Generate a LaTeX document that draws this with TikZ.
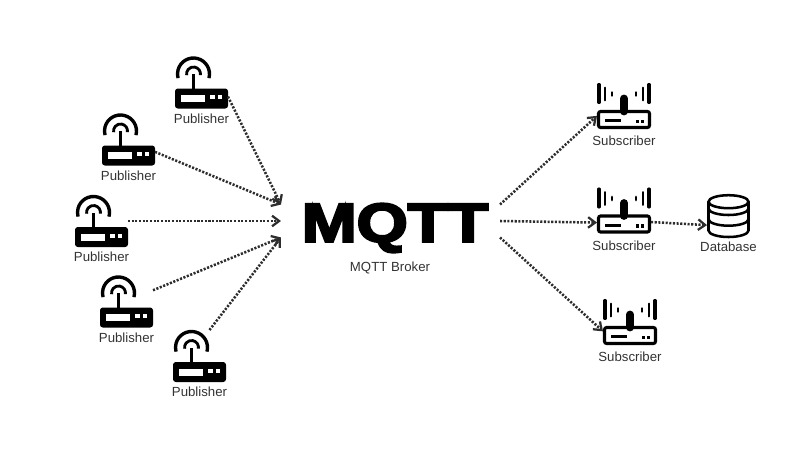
\documentclass[tikz,border=0pt]{standalone}
\usepackage{fontspec}
\setmainfont{Liberation Sans}
\newfontfamily\mqttfont[FakeBold=4]{Liberation Sans Bold}
\usepackage{tikz}
\usetikzlibrary{arrows.meta,positioning}
\definecolor{labelgray}{RGB}{50,50,50}
\definecolor{linkgray}{RGB}{45,45,45}

\tikzset{
    pubicon/.pic={
        \fill[rounded corners=2pt] (-26.5,-26) rectangle (26.5,-6);
        \fill[white] (-21,-19.5) rectangle (3,-12.5);
        \fill[white] (8,-16.7) rectangle (13,-12.7);
        \fill[white] (16,-16.7) rectangle (20,-12.7);
        \draw[line width=1.7pt] (-8,-6) -- (-8,8.5);
        \draw[line width=2pt] (-1.1,7.3) arc[start angle=-10,end angle=190,radius=7];
        \draw[line width=2.4pt] (7.45,4.36) arc[start angle=-15,end angle=195,radius=16];
    },
    subicon/.pic={
        \draw[line width=2.2pt,rounded corners=1.5pt] (-25.5,-22) rectangle (25.5,-6);
        \fill (-19,-16.5) rectangle (-3,-13.5);
        \fill (11.5,-17.5) rectangle (14.5,-14);
        \fill (17,-17.5) rectangle (20,-14);
        \draw[line width=5.5pt,line cap=round] (0,-6) -- (0,7);
        \draw[line width=2.2pt,line cap=round] (-25,3) -- (-25,21);
        \draw[line width=2.2pt,line cap=round] (25,3) -- (25,21);
        \draw[line width=1.4pt,line cap=round] (-19,5) -- (-19,18);
        \draw[line width=1.4pt,line cap=round] (19,5) -- (19,18);
        \draw[line width=2pt,line cap=round] (-12,10) -- (-12,13);
        \draw[line width=2pt,line cap=round] (12,10) -- (12,13);
    },
    dbicon/.pic={
        \draw[line width=1.8pt] (0,14.3) ellipse[x radius=20,y radius=6.5];
        \draw[line width=1.8pt] (-20,14.3) -- (-20,-14.5) arc[start angle=180,end angle=360,x radius=20,y radius=6.5] -- (20,14.3);
        \draw[line width=1.8pt] (-20,7.5) arc[start angle=180,end angle=360,x radius=20,y radius=6.5];
        \draw[line width=1.8pt] (-20,-3.2) arc[start angle=180,end angle=360,x radius=20,y radius=6.5];
    }
}

\begin{document}
\begin{tikzpicture}[
    x=0.025cm,
    y=0.025cm,
    node distance=3.5pt,
    >={Straight Barb[length=5pt,width=7.5pt,line width=1.6pt]},
    pubbox/.style={minimum width=1.325cm,minimum height=1.3cm,inner sep=0pt,outer sep=0pt},
    subbox/.style={minimum width=1.35cm,minimum height=1.175cm,inner sep=0pt,outer sep=0pt},
    dbbox/.style={minimum width=1.075cm,minimum height=1.05cm,inner sep=0pt,outer sep=0pt},
    lbl/.style={inner sep=0pt,font=\fontsize{9.4}{11}\selectfont,text=labelgray},
    link/.style={->,line width=1.8pt,linkgray,dash pattern=on 1.5pt off 1.1pt}
]

\useasboundingbox (0,0) rectangle (800,450);

% publishers
\node[pubbox] (pub1) at (201.5,367.5) {};
\pic at (pub1) {pubicon};
\node[lbl,below=of pub1] (publbl1) {Publisher};

\node[pubbox] (pub2) at (128.5,310.5) {};
\pic at (pub2) {pubicon};
\node[lbl,below=of pub2] (publbl2) {Publisher};

\node[pubbox] (pub3) at (101.5,229) {};
\pic at (pub3) {pubicon};
\node[lbl,below=of pub3] (publbl3) {Publisher};

\node[pubbox] (pub4) at (126.5,148.5) {};
\pic at (pub4) {pubicon};
\node[lbl,below=of pub4] (publbl4) {Publisher};

\node[pubbox] (pub5) at (199.5,94) {};
\pic at (pub5) {pubicon};
\node[lbl,below=of pub5] (publbl5) {Publisher};

% broker
\node[inner sep=0pt,xscale=1.2,font=\mqttfont\fontsize{39}{41}\selectfont] (mqtt) at (395,222) {MQTT};
\node[lbl] (brokerlbl) at (390,182) {MQTT Broker};
\node[minimum width=5.475cm,minimum height=0.825cm,inner sep=0pt,outer sep=0pt] (hub) at (390.5,229) {};

% subscribers
\node[subbox] (sub1) at (624,344.5) {};
\pic at (sub1) {subicon};
\node[lbl,below=5pt of sub1] (sublbl1) {Subscriber};

\node[subbox] (sub2) at (624,240) {};
\pic at (sub2) {subicon};
\node[lbl,below=5pt of sub2] (sublbl2) {Subscriber};

\node[subbox] (sub3) at (630,128.5) {};
\pic at (sub3) {subicon};
\node[lbl,below=5pt of sub3] (sublbl3) {Subscriber};

\node[dbbox] (db) at (728.5,234) {};
\pic at (db) {dbicon};
\node[lbl,below=of db] (dblbl) {Database};

\draw[link] (pub1.-28) -- (hub.north west);
\draw[link] (pub2.-25) -- (hub.north west);
\draw[link] (pub3.east) -- (hub.west);
\draw[link] (pub4.23) -- (hub.south west);
\draw[link] (pub5.69) -- (hub.south west);
\draw[link] (hub.north east) -- (sub1.201);
\draw[link] (hub.east) -- (sub2.205);
\draw[link] (hub.south east) -- (sub3.200);
\draw[link] (sub2.-24) -- (db.203);

\end{tikzpicture}
\end{document}
